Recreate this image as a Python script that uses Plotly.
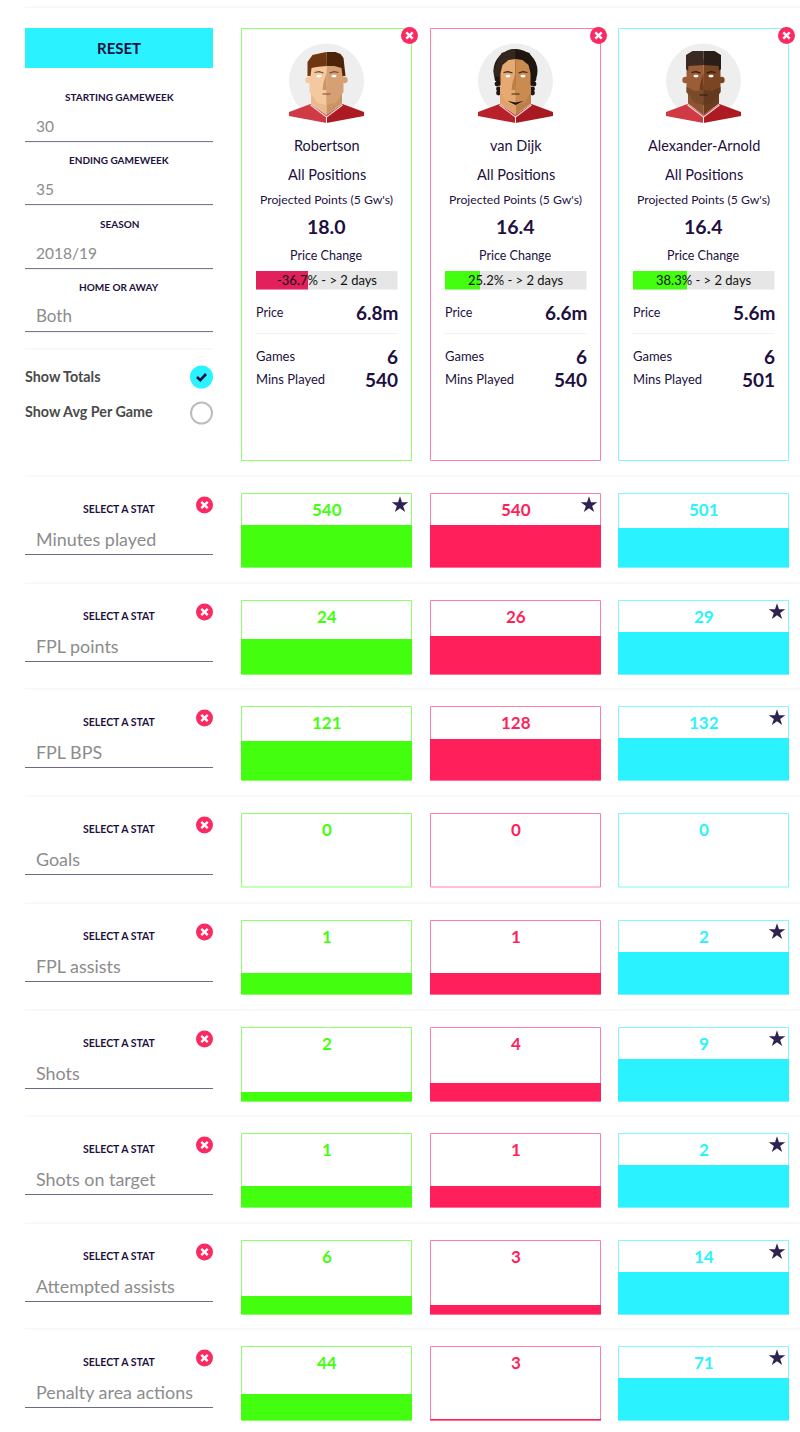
import plotly.graph_objects as go

# ---------- data ----------
players = ["Robertson", "van Dijk", "Alexander-Arnold"]
positions = ["All Positions", "All Positions", "All Positions"]
projected = ["18.0", "16.4", "16.4"]
price_change = [-36.7, 25.2, 38.3]
prices = ["6.8m", "6.6m", "5.6m"]
games = [6, 6, 6]
mins_played = [540, 540, 501]

stat_names = ["Minutes played", "FPL points", "FPL BPS", "Goals", "FPL assists",
              "Shots", "Shots on target", "Attempted assists", "Penalty area actions"]
robertson = [540, 24, 121, 0, 1, 2, 1, 6, 44]
van_dijk = [540, 26, 128, 0, 1, 4, 1, 3, 3]
alexander_arnold = [501, 29, 132, 0, 2, 9, 2, 14, 71]
series = [robertson, van_dijk, alexander_arnold]

filters = [("STARTING GAMEWEEK", "30"), ("ENDING GAMEWEEK", "35"),
           ("SEASON", "2018/19"), ("HOME OR AWAY", "Both")]

# ---------- style / layout ----------
W, H = 800, 1432
FONT = "Lato"
GREEN, PINK, CYAN = "#43ff0f", "#ff1f5b", "#2af3ff"
COLS = [GREEN, PINK, CYAN]
BORDERS = ["#8dff6e", "#ff7fa3", "#7ff8ff"]
DARK = "#1e1040"
GREY = "#8c8c8c"
LINE = "#6f6888"
SEP = "#f2f2f4"
CARD_X = [(241, 412), (430, 601), (618, 789)]
ROW_TOP = [493, 600, 706, 813, 920, 1027, 1133, 1240, 1346]
CELL_H = 74.5
BAR_MAX_PX = 42.7

fig = go.Figure()
layout = dict(
    width=W, height=H, margin=dict(l=0, r=0, t=0, b=0),
    paper_bgcolor="white", plot_bgcolor="rgba(0,0,0,0)", showlegend=False, bargap=0,
    font=dict(family=FONT, color=DARK),
    xaxis=dict(domain=[0, 1], range=[0, W], visible=False, fixedrange=True),
    yaxis=dict(domain=[0, 1], range=[H, 0], visible=False, fixedrange=True),
)
shapes, annots = [], []


def text(x, y, s, size=13, color=DARK, anchor="center", weight=400):
    annots.append(dict(x=x, y=y, xref="x", yref="y", text=s, showarrow=False, xanchor=anchor, yanchor="middle",
                       borderpad=0, borderwidth=0,
                       font=dict(family=FONT, size=size, color=color, weight=weight)))


def rect(x0, y0, x1, y1, fill="rgba(0,0,0,0)", line=None, lw=1, layer="above"):
    shapes.append(dict(type="rect", xref="x", yref="y", x0=x0, y0=y0, x1=x1, y1=y1, fillcolor=fill, layer=layer,
                       line=dict(color=line or "rgba(0,0,0,0)", width=lw if line else 0)))


def hline(x0, x1, y, color=SEP, lw=1):
    shapes.append(dict(type="line", xref="x", yref="y", x0=x0, x1=x1, y0=y, y1=y, line=dict(color=color, width=lw)))


def circle(cx, cy, r, fill, line=None, lw=0):
    shapes.append(dict(type="circle", xref="x", yref="y", x0=cx - r, x1=cx + r, y0=cy - r, y1=cy + r, fillcolor=fill,
                       line=dict(color=line or "rgba(0,0,0,0)", width=lw)))


def poly(cx, cy, pts, fill, close=True, line=None, lw=0):
    d = "M" + " L".join(f"{cx + a:.1f},{cy + b:.1f}" for a, b in pts) + (" Z" if close else "")
    shapes.append(dict(type="path", xref="x", yref="y", path=d, fillcolor=fill if close else "rgba(0,0,0,0)",
                       line=dict(color=line or "rgba(0,0,0,0)", width=lw)))


def close_btn(cx, cy, r=8.5):
    circle(cx, cy, r, "#fb2a62")
    k = r * 0.38
    poly(cx, cy, [(-k, -k), (k, k)], "", False, "white", 2.4)
    poly(cx, cy, [(-k, k), (k, -k)], "", False, "white", 2.4)


def mirror(pts):
    return [(-a, b) for a, b in pts]


def avatar(cx, cy, skin_l, skin_r, neck_l, neck_r, hair_l, hair_r, shirt_l, shirt_r, brow, style):
    circle(cx, cy, 37.5, "#eeeeee")
    # shirt
    sh = [(-37.5, 31), (-16, 23), (0, 34), (0, 42), (-37.5, 35)]
    poly(cx, cy, sh, shirt_l)
    poly(cx, cy, mirror(sh), shirt_r)
    # bushy hair sits behind the face
    if style == "vvd":
        circle(cx, cy - 10, 22, hair_r)
        poly(cx, cy, [(-22, -10), (-16, -25), (-7, -31), (0, -32), (0, 0), (-20, 0)], hair_l)
        for s in (-1, 1):
            for dy in (-2, 3, 8, 12):
                circle(cx + s * (18.5 if dy < 8 else 17), cy + dy, 2.4, hair_r)
    # neck
    nw = 15.5
    nk = [(-nw, 4), (0, 4), (0, 34), (-nw, 22.5)]
    poly(cx, cy, nk, neck_l)
    poly(cx, cy, mirror(nk), neck_r)
    # collar stripes
    poly(cx, cy, [(-16, 24), (0, 36)], "", False, "#f4d5d5", 1.2)
    poly(cx, cy, [(16, 24), (0, 36)], "", False, "#f4d5d5", 1.2)
    poly(cx, cy, [(0, 36), (0, 43)], "", False, "#ffffff", 1)
    # ears
    if style != "vvd":
        circle(cx - 18, cy - 1, 3.2, skin_l)
        circle(cx + 18, cy - 1, 3.2, skin_r)
    # face
    w = 15 if style == "vvd" else 17
    face = [(-w, -22), (0, -22), (0, 24), (-9, 22), (-w, 11)]
    poly(cx, cy, face, skin_l)
    poly(cx, cy, mirror(face), skin_r)
    # nose shade
    poly(cx, cy, [(0, -8), (0, 9), (-4, 9), (-3, 2)], neck_r)
    # hair in front of the forehead
    if style == "rob":
        h = [(-19, -5), (-19, -19), (-14, -26), (-5, -28), (0, -29), (0, -15), (-10, -14), (-15, -13), (-16, -5)]
        h2 = [(0, -29), (9, -29), (14, -27), (17, -23), (19, -5), (16, -5), (15, -13), (8, -15), (0, -15)]
    elif style == "vvd":
        h = [(-15, -8), (-13, -16), (-7, -21), (0, -22), (0, -32), (-14, -28), (-20, -16)]
        h2 = mirror(h)
    else:
        h = [(-17.5, -12), (-17.5, -26), (-11, -30), (0, -30), (0, -16), (-15, -15), (-15.5, -10)]
        h2 = mirror(h)
    poly(cx, cy, h, hair_l)
    poly(cx, cy, h2, hair_r)
    # brows / eyes / mouth
    for s in (-1, 1):
        poly(cx, cy, [(s * 3, -8), (s * 7.5, -9.3), (s * 12, -8.5)], "", False, brow, 1.2)
        shapes.append(dict(type="circle", xref="x", yref="y", x0=cx + s * 7.5 - 2.6, x1=cx + s * 7.5 + 2.6,
                           y0=cy - 6.2, y1=cy - 3.6, fillcolor="white", line=dict(width=0)))
    poly(cx, cy, [(-4, 13), (4, 13)], "", False, brow, 1)
    if style == "vvd":
        poly(cx, cy, [(-8, 20), (0, 21.5), (8, 20), (0, 24)], "#1c1410")
    if style == "taa":
        beard = [(-17, 6), (-9, 10), (0, 9), (0, 24), (-9, 22), (-17, 11)]
        poly(cx, cy, beard, "#7b4a2b")
        poly(cx, cy, mirror(beard), "#63391f")
        poly(cx, cy, [(-4, 14), (4, 14)], "", False, "#3a2212", 1.2)


# ---------- page chrome ----------
hline(25, W, 7)
rect(25, 28, 213, 68, CYAN)
text(119, 48, "<b>RESET</b>", 15)
for (label, val), y in zip(filters, [97, 160, 224, 287]):
    text(119, y, label, 10, weight=700)
    text(36, y + 28.5, val, 17 if val.isalpha() else 15.5, GREY, "left")
    hline(25, 213, y + 44.6, LINE, 1)
hline(25, 213, 349)
text(25, 376.5, "Show Totals", 14.3, "#4a4a4a", "left", 700)
text(25, 411, "Show Avg Per Game", 14.3, "#4a4a4a", "left", 700)
circle(201.5, 377, 11.5, CYAN)
poly(201.5, 377, [(-4.5, 0), (-1.2, 3.2), (4.5, -3)], "", False, DARK, 2.6)
circle(201.5, 413, 10.5, "white", "#bcbcbc", 2)

# ---------- player cards ----------
AV = [
    dict(skin_l="#f4c9a0", skin_r="#d6a075", neck_l="#eab98c", neck_r="#c99462", hair_l="#6e3611", hair_r="#4d2408",
         shirt_l="#cf3a45", shirt_r="#ab1b21", brow="#7a4a2a", style="rob"),
    dict(skin_l="#e6a971", skin_r="#c98b50", neck_l="#e0a26a", neck_r="#bd7f47", hair_l="#35261e", hair_r="#1f1611",
         shirt_l="#b8202a", shirt_r="#a81a22", brow="#3a2412", style="vvd"),
    dict(skin_l="#9a5d35", skin_r="#7c4522", neck_l="#8d5430", neck_r="#6e3c1c", hair_l="#3a2a22", hair_r="#2a1e18",
         shirt_l="#cf3a45", shirt_r="#ab1b21", brow="#2e1b10", style="taa"),
]
n_axis = 1


def add_axes(x0, x1, y0, y1, xrange, yrange):
    """Create one small subplot whose pixel box is (x0,y0)-(x1,y1)."""
    global n_axis
    n_axis += 1
    xa, ya = f"xaxis{n_axis}", f"yaxis{n_axis}"
    common = dict(showgrid=False, zeroline=False, showticklabels=False, ticks="", fixedrange=True, showline=False)
    layout[xa] = dict(domain=[x0 / W, x1 / W], range=xrange, anchor=f"y{n_axis}", **common)
    layout[ya] = dict(domain=[1 - y1 / H, 1 - y0 / H], range=yrange, anchor=f"x{n_axis}", **common)
    return f"x{n_axis}", f"y{n_axis}"


for i, (x0, x1) in enumerate(CARD_X):
    cx = (x0 + x1) / 2
    rect(x0 + 0.5, 28.5, x1 - 0.5, 460.5, "rgba(0,0,0,0)", BORDERS[i], 1)
    close_btn(x1 - 2.5, 35.5)
    avatar(cx, 81, **AV[i])
    text(cx, 145, players[i], 14.5)
    text(cx, 174, positions[i], 14.5)
    text(cx, 199, "Projected Points (5 Gw's)", 12.2)
    text(cx, 226, projected[i], 19.5, weight=700)
    text(cx, 255, "Price Change", 12.5)
    # price change progress bar
    bx0, bx1 = cx - 71, cx + 71
    xa, ya = add_axes(bx0, bx1, 270.5, 289.5, [0, 100], [-0.5, 0.5])
    v = price_change[i]
    fig.add_trace(go.Bar(y=[0], x=[100], orientation="h", width=1, marker=dict(color="#e5e6e5", line=dict(width=0)),
                         xaxis=xa, yaxis=ya, hoverinfo="skip"))
    fig.add_trace(go.Bar(y=[0], x=[abs(v)], orientation="h", width=1,
                         marker=dict(color="#e2205c" if v < 0 else GREEN, line=dict(width=0)),
                         xaxis=xa, yaxis=ya, hoverinfo="skip"))
    text(cx, 280, f"{v:.1f}% - > 2 days", 13, "#111111")
    text(bx0 + 0.5, 312, "Price", 12.5, anchor="left")
    text(bx1 + 0.5, 312, prices[i], 19, anchor="right", weight=700)
    hline(bx0, bx1, 333.5)
    text(bx0 + 0.5, 356, "Games", 13, anchor="left")
    text(bx1 + 0.5, 356.5, str(games[i]), 19, anchor="right", weight=700)
    text(bx0 + 0.5, 379, "Mins Played", 13, anchor="left")
    text(bx1 + 0.5, 379.5, str(mins_played[i]), 19, anchor="right", weight=700)

layout["barmode"] = "overlay"

# ---------- stat rows ----------
star_x, star_y = [], []
for r, (name, top) in enumerate(zip(stat_names, ROW_TOP)):
    hline(25, W, top - 17)
    text(119, top + 16.3, "SELECT A STAT", 10.5, weight=700)
    text(36, top + 45.5, name, 17.9, GREY, "left")
    hline(25, 213, top + 61.5, LINE, 1)
    close_btn(204.5, top + 12)
    vals = [s[r] for s in series]
    best = max(vals)
    ymax = (best if best > 0 else 1) * CELL_H / BAR_MAX_PX
    for i, (x0, x1) in enumerate(CARD_X):
        rect(x0 + 0.5, top + 0.5, x1 - 0.5, top + CELL_H - 0.5, "rgba(0,0,0,0)", BORDERS[i], 1, layer="below")
        xa, ya = add_axes(x0, x1, top, top + CELL_H, [-0.5, 0.5], [0, ymax])
        fig.add_trace(go.Bar(x=[0], y=[vals[i]], width=1, marker=dict(color=COLS[i], line=dict(width=0)),
                             xaxis=xa, yaxis=ya, hoverinfo="skip"))
        text((x0 + x1) / 2, top + 16.5, str(vals[i]), 17, COLS[i], weight=700)
        if best > 0 and vals[i] == best:
            star_x.append(x1 - 12)
            star_y.append(top + 12)

fig.add_trace(go.Scatter(x=star_x, y=star_y, mode="markers", xaxis="x", yaxis="y", hoverinfo="skip",
                         marker=dict(symbol="star", size=12.5, color="#2f2150", line=dict(width=0))))

layout["shapes"] = shapes
layout["annotations"] = annots
fig.update_layout(**layout)
fig.write_html("out.html", config=dict(displayModeBar=False, staticPlot=True),
               post_script="document.body.style.margin='0';document.documentElement.style.overflow='hidden';")
